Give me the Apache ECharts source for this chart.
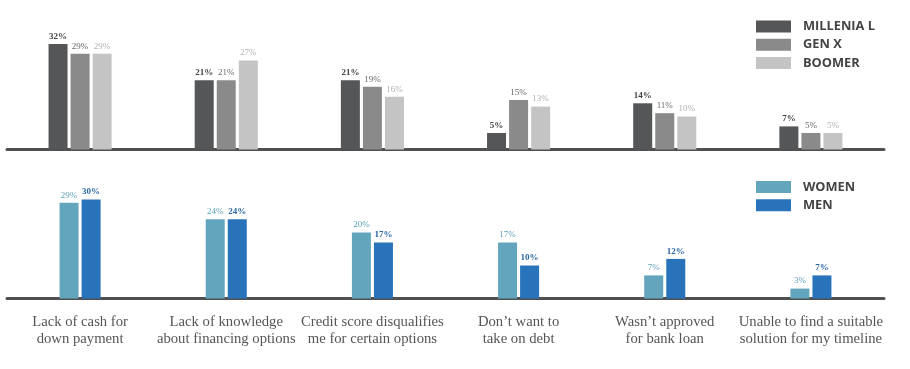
<!DOCTYPE html>
<html>
<head>
<meta charset="utf-8">
<script src="https://cdn.jsdelivr.net/npm/echarts@6/dist/echarts.min.js"></script>
<style>html,body{margin:0;padding:0;background:#fff}#c{width:910px;height:369px}</style>
</head>
<body>
<div id="c"></div>
<script>
const categories = [
  "Lack of cash for\ndown payment",
  "Lack of knowledge\nabout financing options",
  "Credit score disqualifies\nme for certain options",
  "Don\u2019t want to\ntake on debt",
  "Wasn\u2019t approved\nfor bank loan",
  "Unable to find a suitable\nsolution for my timeline"
];
const millennial = [32, 21, 21, 5, 14, 7];
const genX = [29, 21, 19, 15, 11, 5];
const boomer = [29, 27, 16, 13, 10, 5];
const women = [29, 24, 20, 17, 7, 3];
const men = [30, 24, 17, 10, 12, 7];

const serif = "'Liberation Serif','DejaVu Serif',serif";
function lbl(color, bold) {
  return { show: true, position: 'top', distance: 3, formatter: '{c}%', color: color,
           fontFamily: serif, fontSize: 9, fontWeight: bold ? 'bold' : 'normal' };
}
function bar(name, data, color, labelColor, bold, idx) {
  return { name: name, type: 'bar', data: data, xAxisIndex: idx, yAxisIndex: idx,
           barWidth: 19, barGap: '16%', itemStyle: { color: color },
           label: lbl(labelColor, bold), emphasis: { disabled: true } };
}
const chart = echarts.init(document.getElementById('c'));
const axisLine = { show: true, lineStyle: { color: '#505050', width: 3 } };
const legendText = { fontFamily: "'Open Sans',sans-serif", fontWeight: 'bold', fontSize: 12.8, color: '#444', lineHeight: 12, padding: [0, 0, 0, 7] };
chart.setOption({
  animation: false,
  grid: [
    { left: 7, right: 26, top: 17.5, height: 132 },
    { left: 7, right: 26, top: 166.5, height: 132 }
  ],
  xAxis: [
    { type: 'category', gridIndex: 0, data: categories, axisLine: axisLine,
      axisTick: { show: false }, axisLabel: { show: false } },
    { type: 'category', gridIndex: 1, data: categories, axisLine: axisLine,
      axisTick: { show: false },
      axisLabel: { interval: 0, margin: 15, color: '#555', fontFamily: serif, fontSize: 14.7, lineHeight: 17 } }
  ],
  yAxis: [
    { type: 'value', gridIndex: 0, min: 0, max: 40, show: false, splitLine: { show: false } },
    { type: 'value', gridIndex: 1, min: 0, max: 40, show: false, splitLine: { show: false } }
  ],
  legend: [
    { data: ['MILLENIA L', 'GEN X', 'BOOMER'], orient: 'vertical', left: 751, top: 15,
      itemWidth: 35, itemHeight: 12, itemGap: 5.3, icon: 'rect', selectedMode: false,
      textStyle: legendText },
    { data: ['WOMEN', 'MEN'], orient: 'vertical', left: 751, top: 175.5,
      itemWidth: 35, itemHeight: 12, itemGap: 5.3, icon: 'rect', selectedMode: false,
      textStyle: legendText }
  ],
  series: [
    bar('MILLENIA L', millennial, '#555658', '#444', true, 0),
    bar('GEN X', genX, '#8a8a8a', '#666', false, 0),
    bar('BOOMER', boomer, '#c4c4c4', '#b0b0b0', false, 0),
    bar('WOMEN', women, '#62a5bd', '#5a9fb8', false, 1),
    bar('MEN', men, '#2873b9', '#2a68a6', true, 1)
  ]
});
</script>
</body>
</html>
